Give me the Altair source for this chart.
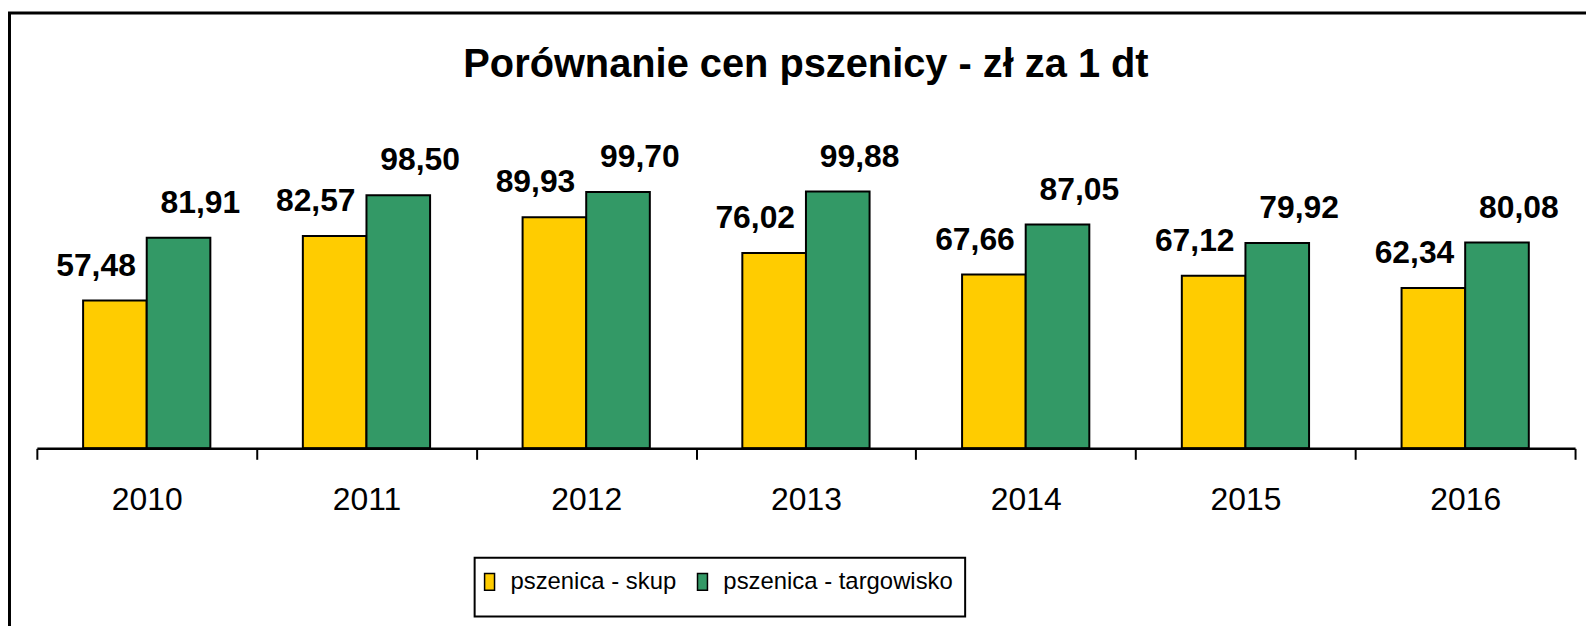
import altair as alt
import pandas as pd

years = ["2010", "2011", "2012", "2013", "2014", "2015", "2016"]
skup = [57.48, 82.57, 89.93, 76.02, 67.66, 67.12, 62.34]
targowisko = [81.91, 98.50, 99.70, 99.88, 87.05, 79.92, 80.08]
series = ["pszenica - skup", "pszenica - targowisko"]
colors = ["#FFCC00", "#339966"]

rows = []
for i, y in enumerate(years):
    rows.append({"rok": y, "seria": series[0], "wartosc": skup[i]})
    rows.append({"rok": y, "seria": series[1], "wartosc": targowisko[i]})
df = pd.DataFrame(rows)

FONT = "Liberation Sans"
W, H = 1546, 310

x_enc = alt.X("rok:N", sort=years, title=None,
              scale=alt.Scale(paddingInner=0, paddingOuter=0),
              axis=alt.Axis(labelAngle=0, labelFontSize=32, labelFont=FONT,
                            labelColor="black", labelPadding=25,
                            domainColor="black", domainWidth=2.5,
                            tickColor="black", tickWidth=2, tickSize=11,
                            tickBand="extent", grid=False, zindex=1))
y_enc = alt.Y("wartosc:Q", scale=alt.Scale(domain=[0, 120]), axis=None)
xo_enc = alt.XOffset("seria:N", sort=series,
                     scale=alt.Scale(paddingInner=0, paddingOuter=0.727))

frame = alt.Chart(alt.Data(values=[{"a": 1}])).mark_rect(
    fillOpacity=0, stroke="black", strokeWidth=3
).encode(
    x=alt.value(-27.5), x2=alt.value(W + 60),
    y=alt.value(-127.5), y2=alt.value(H + 250)
)

base = alt.Chart(df)

bars = base.mark_bar(stroke="black", strokeWidth=2).encode(
    x=x_enc, xOffset=xo_enc, y=y_enc,
    color=alt.Color("seria:N", sort=series,
                    scale=alt.Scale(domain=series, range=colors),
                    legend=alt.Legend(title=None, orient="none",
                                      legendX=440, legendY=420,
                                      direction="horizontal", columns=2,
                                      symbolType="M0,-3.9M0,3.9M-2.8,-1.7H-0.8V1.7H-2.8Z",
                                      symbolSize=100,
                                      symbolStrokeColor="black",
                                      symbolStrokeWidth=1.5,
                                      labelFontSize=24, labelFont=FONT,
                                      labelColor="black", labelOffset=0,
                                      labelLimit=0,
                                      columnPadding=18, padding=12,
                                      strokeColor="black"))
)

def labels(name, dx):
    return base.transform_filter(alt.datum.seria == name).transform_calculate(
        etykieta="replace(format(datum.wartosc, '.2f'), '.', ',')"
    ).mark_text(font=FONT, fontSize=32, fontWeight="bold", color="black",
                baseline="alphabetic", dy=-25, dx=dx).encode(
        x=x_enc, xOffset=xo_enc, y=y_enc, text="etykieta:N"
    )

chart = alt.layer(frame, bars, labels(series[0], -19), labels(series[1], 22)).properties(
    width=W, height=H,
    title=alt.Title("Porównanie cen pszenicy - zł za 1 dt", font=FONT,
                    fontSize=40, fontWeight="bold", color="black",
                    anchor="middle", frame="group", baseline="alphabetic",
                    offset=-106),
    autosize=alt.AutoSizeParams(type="none"),
    padding={"left": 29, "top": 131, "right": 11, "bottom": 177},
    background="white"
).configure_view(stroke=None).configure_legend(strokeWidth=2)

chart.save("out.html", embed_options={"renderer": "svg", "actions": False})
